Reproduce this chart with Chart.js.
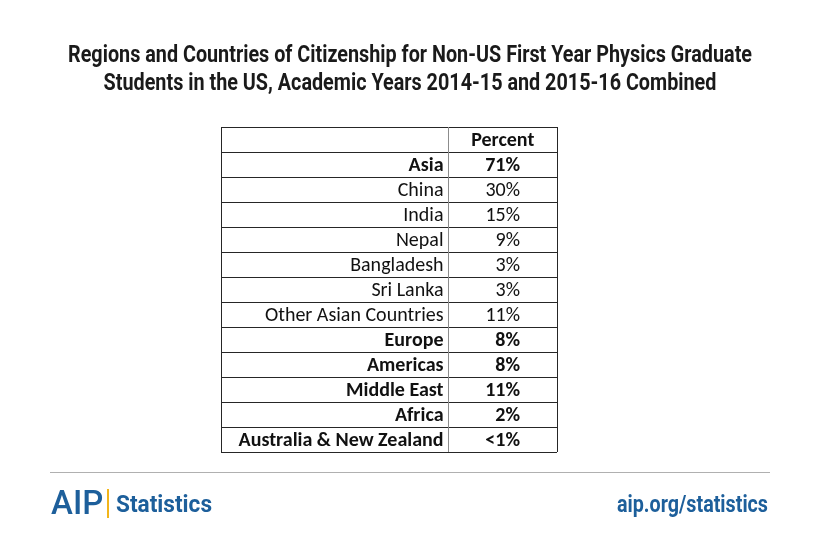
<!DOCTYPE html>
<html>
<head>
<meta charset="utf-8">
<script src="https://cdn.jsdelivr.net/npm/chart.js@4.4.1/dist/chart.umd.min.js"></script>
<style>
  html, body { margin: 0; background: #fff; }
  #wrap { width: 820px; height: 554px; }
</style>
</head>
<body>
<div id="wrap"><canvas id="chart" width="820" height="554"></canvas></div>
<script>
const titleLines = [
  "Regions and Countries of Citizenship for Non-US First Year Physics Graduate",
  "Students in the US, Academic Years 2014-15 and 2015-16 Combined"
];
const columnHeader = "Percent";
const places = ["Asia", "China", "India", "Nepal", "Bangladesh", "Sri Lanka",
  "Other Asian Countries", "Europe", "Americas", "Middle East", "Africa",
  "Australia & New Zealand"];
const percents = [71, 30, 15, 9, 3, 3, 11, 8, 8, 11, 2, 1];
const percentLabels = ["71%", "30%", "15%", "9%", "3%", "3%", "11%", "8%",
  "8%", "11%", "2%", "<1%"];
const levels = ["region", "country", "country", "country", "country", "country",
  "country", "region", "region", "region", "region", "region"];

// first category is the header row
const rowLabels = [columnHeader].concat(places);

const TABLE_FONT = "Carlito, Calibri, Lato, sans-serif";
const COND_FONT = "Roboto, sans-serif";
const COL_SPLIT = 0.676;   // divider between label and percent column (x scale units)
const BLUE = "#1d5f9b";

// text squeezed sideways to a target width (the original uses a condensed face)
function condensedText(ctx, text, x, y, width, align) {
  const w = ctx.measureText(text).width;
  const s = width / w;
  ctx.save();
  ctx.translate(x, y);
  ctx.scale(s, 1);
  ctx.textAlign = align;
  ctx.fillText(text, 0, 0);
  ctx.restore();
  return s;
}

// draws the table cells, the title and the footer
const tablePlugin = {
  id: "tableDraw",
  afterDraw(chart) {
    const { ctx, chartArea: a, scales: { x, y } } = chart;
    ctx.save();

    // title
    ctx.fillStyle = "#1a1a1a";
    ctx.font = "bold 24px " + COND_FONT;
    ctx.textBaseline = "alphabetic";
    const sx = 684 / ctx.measureText(titleLines[0]).width;
    titleLines.forEach((t, i) => {
      const w = ctx.measureText(t).width * sx;
      condensedText(ctx, t, 410, 62 + i * 28, w, "center");
    });

    // horizontal row lines
    const n = rowLabels.length;
    const bounds = [a.top];
    for (let i = 0; i < n - 1; i++) {
      bounds.push((y.getPixelForValue(i) + y.getPixelForValue(i + 1)) / 2);
    }
    bounds.push(a.bottom);
    ctx.strokeStyle = "#262626";
    ctx.lineWidth = 1;
    bounds.forEach(b => {
      const yy = Math.round(b) + 0.5;
      ctx.beginPath();
      ctx.moveTo(a.left, yy);
      ctx.lineTo(a.right, yy);
      ctx.stroke();
    });
    // outer verticals
    [a.left, a.right].forEach(px => {
      const xx = Math.round(px) + 0.5;
      ctx.beginPath();
      ctx.moveTo(xx, a.top);
      ctx.lineTo(xx, a.bottom);
      ctx.stroke();
    });
    // column divider
    const xs = Math.round(x.getPixelForValue(COL_SPLIT)) + 0.5;
    ctx.strokeStyle = "#8c8c8c";
    ctx.beginPath();
    ctx.moveTo(xs, a.top);
    ctx.lineTo(xs, a.bottom);
    ctx.stroke();

    // cells
    ctx.fillStyle = "#111";
    ctx.textBaseline = "middle";
    const hy = y.getPixelForValue(0) + 1;
    ctx.font = "bold 20px " + TABLE_FONT;
    ctx.textAlign = "center";
    ctx.fillText(columnHeader, (xs + a.right) / 2, hy);

    const valueRight = x.getPixelForValue(0.89);
    places.forEach((p, i) => {
      const cy = y.getPixelForValue(i + 1) + 1;
      const bold = levels[i] === "region";
      ctx.font = (bold ? "bold " : "") + "20px " + TABLE_FONT;
      ctx.textAlign = "right";
      ctx.fillText(p, xs - 5, cy);
      ctx.fillText(percentLabels[i], valueRight, cy);
    });

    // footer rule
    ctx.strokeStyle = "#b0b0b0";
    ctx.beginPath();
    ctx.moveTo(50, 472.5);
    ctx.lineTo(770, 472.5);
    ctx.stroke();

    // AIP | Statistics
    ctx.textBaseline = "alphabetic";
    ctx.textAlign = "left";
    ctx.fillStyle = BLUE;
    ctx.font = "500 33px Roboto, sans-serif";
    ctx.fillText("AIP", 51, 514);
    ctx.fillStyle = "#f2b51b";
    ctx.fillRect(107, 489, 2, 29);
    ctx.fillStyle = BLUE;
    ctx.font = "bold 24px " + COND_FONT;
    condensedText(ctx, "Statistics", 116, 512, 96, "left");
    condensedText(ctx, "aip.org/statistics", 768, 512, 151, "right");

    ctx.restore();
  }
};

new Chart(document.getElementById("chart"), {
  type: "scatter",
  data: {
    datasets: [{
      label: columnHeader,
      data: places.map((p, i) => ({ x: 1, y: p, v: percents[i] })),
      pointRadius: 0,
      pointHoverRadius: 0
    }]
  },
  options: {
    responsive: false,
    animation: false,
    devicePixelRatio: 1,
    layout: { padding: { left: 221, top: 127, right: 263, bottom: 102 } },
    scales: {
      x: { type: "linear", min: 0, max: 1, display: false },
      y: { type: "category", labels: rowLabels, offset: true, display: false }
    },
    plugins: {
      legend: { display: false },
      tooltip: { enabled: false },
      title: { display: false }
    }
  },
  plugins: [tablePlugin]
});
</script>
</body>
</html>
